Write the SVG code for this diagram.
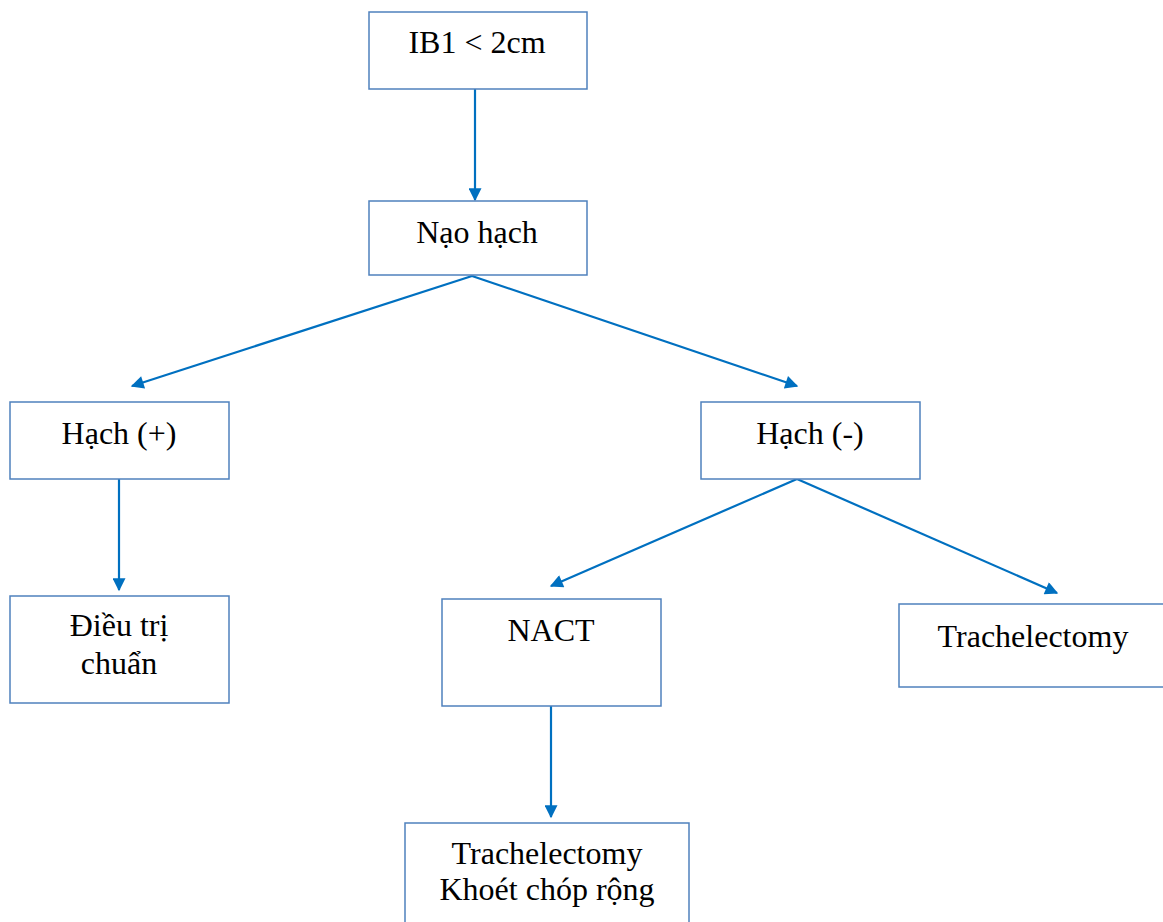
<svg xmlns="http://www.w3.org/2000/svg" width="1163" height="922" viewBox="0 0 1163 922">
<style>
.box{fill:#fff;stroke:#4F81BD;stroke-width:1.5}
.t{font-family:"Liberation Serif","Times New Roman",serif;font-size:32px;fill:#000;text-anchor:middle}
.c{stroke:#0070C0;stroke-width:2.2;fill:none;marker-end:url(#ah)}
</style>
<defs>
<marker id="ah" viewBox="0 0 10 10" refX="9" refY="5" markerWidth="14" markerHeight="13" markerUnits="userSpaceOnUse" orient="auto">
<path d="M0,0 L10,5 L0,10 z" fill="#0070C0"/>
</marker>
</defs>
<rect width="1163" height="922" fill="#fff"/>
<g id="connectors">
<line class="c" x1="475" y1="89" x2="475" y2="200"/>
<line class="c" x1="472" y1="276" x2="132" y2="386"/>
<line class="c" x1="472" y1="276" x2="797" y2="386"/>
<line class="c" x1="119" y1="479" x2="119" y2="590"/>
<line class="c" x1="797" y1="479" x2="551" y2="586"/>
<line class="c" x1="797" y1="479" x2="1057" y2="593"/>
<line class="c" x1="551" y1="706" x2="551" y2="817"/>
</g>
<g id="n1"><rect class="box" x="369" y="12" width="218" height="77"/><text class="t" x="477" y="53">IB1 &lt; 2cm</text></g>
<g id="n2"><rect class="box" x="369" y="201" width="218" height="74"/><text class="t" x="477" y="243">Nạo hạch</text></g>
<g id="n3"><rect class="box" x="10" y="402" width="219" height="77"/><text class="t" x="119" y="444">Hạch (+)</text></g>
<g id="n4"><rect class="box" x="701" y="402" width="219" height="77"/><text class="t" x="810" y="444">Hạch (-)</text></g>
<g id="n5"><rect class="box" x="10" y="596" width="219" height="107"/><text class="t" x="119" y="636">Điều trị</text><text class="t" x="119" y="674">chuẩn</text></g>
<g id="n6"><rect class="box" x="442" y="599" width="219" height="107"/><text class="t" x="551" y="641">NACT</text></g>
<g id="n7"><rect class="box" x="899" y="604" width="270" height="83"/><text class="t" x="1033" y="647">Trachelectomy</text></g>
<g id="n8"><rect class="box" x="405" y="823" width="284" height="105"/><text class="t" x="547" y="864">Trachelectomy</text><text class="t" x="547" y="900">Khoét chóp rộng</text></g>
</svg>
